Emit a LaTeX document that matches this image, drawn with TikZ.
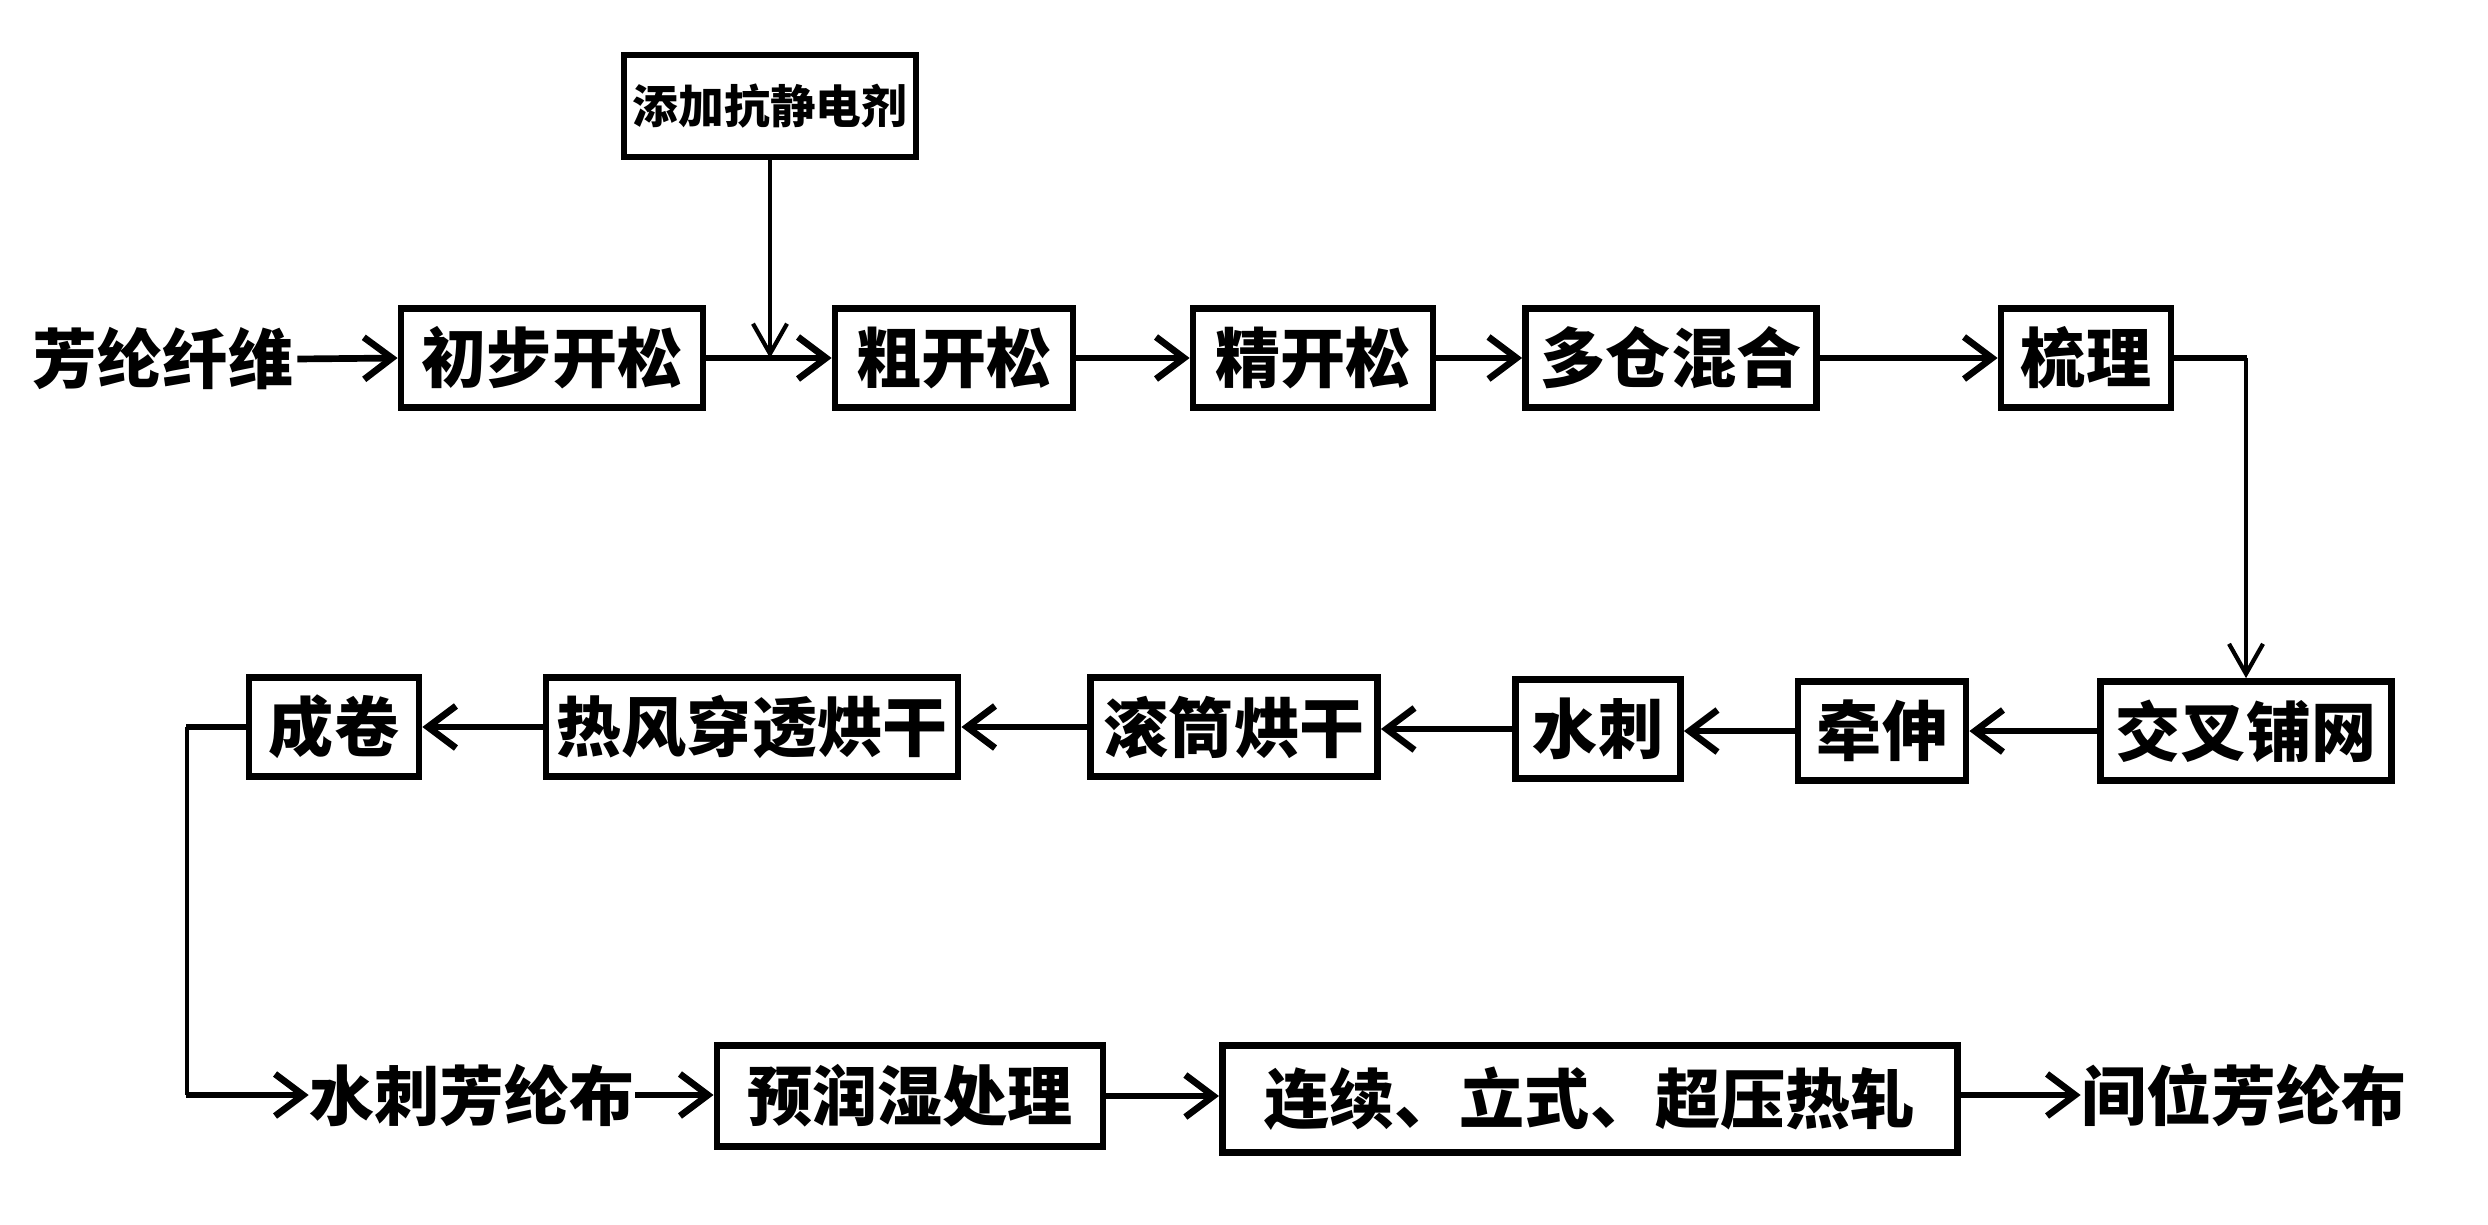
\documentclass[tikz,border=0pt]{standalone}
\usepackage{fontspec}
\setmainfont{Noto Sans CJK SC}
\usetikzlibrary{arrows.meta}
\begin{document}
\begin{tikzpicture}[x=0.01cm,y=-0.01cm,
  box/.style={draw, line width=1.9pt, inner sep=0pt, minimum height=0.99cm, font=\fontsize{18.5}{20}\selectfont\bfseries},
  lbl/.style={inner sep=1pt, font=\fontsize{18.5}{20}\selectfont\bfseries},
  arr/.style={line width=1.9pt, -{Straight Barb[length=0.28cm, width=0.42cm, line width=1.9pt]}},
  thin/.style={line width=1.2pt, -{Straight Barb[length=0.3cm, width=0.34cm, line width=1.2pt]}},
  thickln/.style={line width=1.9pt},
  thinln/.style={line width=1.2pt}]
\useasboundingbox (0,0) rectangle (2488,1224);
% top
\node[box, minimum width=2.92cm, minimum height=1.01cm, line width=1.7pt, font=\fontsize{13}{14}\selectfont\bfseries] (add) at (770,106) {添加抗静电剂};
% row 1
\node[lbl] (fw) at (163,359) {芳纶纤维};
\node[box, minimum width=3.02cm] (cb) at (552,358) {初步开松};
\node[box, minimum width=2.38cm] (ck) at (954,358) {粗开松};
\node[box, minimum width=2.40cm] (jk) at (1313,358) {精开松};
\node[box, minimum width=2.91cm] (dc) at (1671,358) {多仓混合};
\node[box, minimum width=1.70cm] (sl) at (2086,358) {梳理};
% row 2
\node[box, minimum width=2.91cm] (jc) at (2246,731) {交叉铺网};
\node[box, minimum width=1.68cm] (qs) at (1882,731) {牵伸};
\node[box, minimum width=1.65cm] (sc) at (1598,729) {水刺};
\node[box, minimum width=2.87cm] (gt) at (1234,727) {滚筒烘干};
\node[box, minimum width=4.12cm] (rf) at (752,727) {热风穿透烘干};
\node[box, minimum width=1.70cm] (cj) at (334,727) {成卷};
% row 3
\node[lbl, inner sep=0pt] (scb) at (472,1095) {水刺芳纶布};
\node[box, minimum width=3.86cm, minimum height=1.01cm] (yr) at (910,1096) {预润湿处理};
\node[box, minimum width=7.35cm, minimum height=1.07cm] (lx) at (1590,1099) {连续、立式、超压热轧};
\node[lbl, inner sep=0pt] (jw) at (2244,1095) {间位芳纶布};
% connectors
\coordinate (c1) at (sl.east -| jc.north);
\coordinate (c2) at (187,727);
\coordinate (c3) at (187,1095);
\draw[arr] (fw.east) -- (cb.west);
\draw[arr] (cb.east) -- (ck.west);
\draw[thin] (add.south) -- (add.south |- cb.east);
\draw[arr] (ck.east) -- (jk.west);
\draw[arr] (jk.east) -- (dc.west);
\draw[arr] (dc.east) -- (sl.west);
\draw[thickln] (sl.east) -- ([xshift=0.4pt]c1);
\draw[thin] (c1) -- (jc.north);
\draw[arr] (jc.west) -- (qs.east |- jc.west);
\draw[arr] (qs.west) -- (sc.east |- qs.west);
\draw[arr] (sc.west) -- (gt.east |- sc.west);
\draw[arr] (gt.west) -- (rf.east |- gt.west);
\draw[arr] (rf.west) -- (cj.east |- rf.west);
\draw[thickln] (cj.west) -- ([xshift=-0.4pt]c2);
\draw[thinln] (c2) -- (c3);
\draw[arr] ([xshift=-0.4pt]c3) -- (scb.west);
\draw[arr] (scb.east) -- (yr.west |- scb.east);
\draw[arr] (yr.east) -- (lx.west |- yr.east);
\draw[arr] (lx.east |- jw.west) -- (jw.west);
\end{tikzpicture}
\end{document}
